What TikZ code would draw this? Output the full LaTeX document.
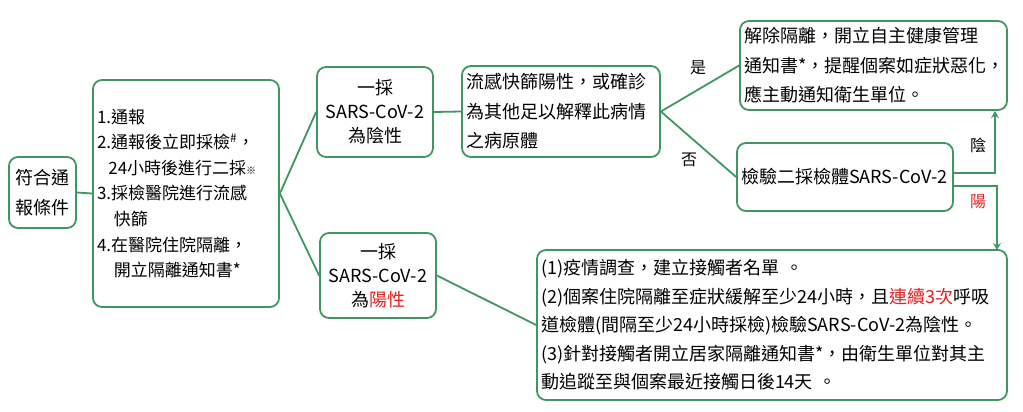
\documentclass[tikz,border=0pt]{standalone}
\usepackage{fontspec}
\setmainfont{Noto Sans CJK TC}
\usetikzlibrary{arrows.meta}
\definecolor{grn}{RGB}{64,150,96}
\definecolor{rd}{RGB}{230,30,30}
\tikzset{
 bx/.style={draw=grn,line width=1.8pt,rounded corners=9pt,inner sep=4pt,font=\fontsize{18}{29.5}\selectfont},
 cn/.style={draw=grn,line width=1.8pt},
 lb/.style={font=\fontsize{16}{18}\selectfont}
}
\begin{document}
\begin{tikzpicture}[x=1pt,y=-1pt]
\useasboundingbox (0,0) rectangle (1023,412);
\node[bx,minimum width=67pt,minimum height=71pt,align=center,font=\fontsize{18}{30}\selectfont] (A) at (42.5,192.5) {符合通\\報條件};
\node[bx,minimum width=186pt,minimum height=227pt,align=left,text width=178pt,font=\fontsize{17}{25.6}\selectfont] (B) at (186,193.5) {1.通報\\2.通報後立即採檢$^{\#}$，\\\ \ 24小時後進行二採{\fontsize{10}{10}\selectfont ※}\\3.採檢醫院進行流感\\\ \ \ 快篩\\4.在醫院住院隔離，\\\ \ \ 開立隔離通知書*};
\node[bx,minimum width=116pt,minimum height=90pt,align=center,font=\fontsize{18}{24}\selectfont] (C) at (375,112) {一採\\SARS-CoV-2\\為陰性};
\node[bx,minimum width=198pt,minimum height=91pt,align=left,text width=190pt] (D) at (561,111.5) {流感快篩陽性，或確診\\為其他足以解釋此病情\\之病原體};
\node[bx,minimum width=267pt,minimum height=89pt,align=left,text width=259pt] (E) at (873.5,65.5) {解除隔離，開立自主健康管理\\通知書*，提醒個案如症狀惡化，\\應主動通知衛生單位。};
\node[bx,minimum width=216pt,minimum height=68pt,align=left,text width=208pt] (F) at (845,177) {檢驗二採檢體SARS-CoV-2};
\node[bx,minimum width=116pt,minimum height=85pt,align=center,font=\fontsize{18}{24}\selectfont] (G) at (378,275.5) {一採\\SARS-CoV-2\\為\textcolor{rd}{陽性}};
\node[bx,minimum width=470pt,minimum height=150pt,align=left,text width=462pt,font=\fontsize{18}{28.5}\selectfont] (H) at (772,325) {(1)疫情調查，建立接觸者名單 。\\(2)個案住院隔離至症狀緩解至少24小時，且\textcolor{rd}{連續3次}呼吸\\道檢體(間隔至少24小時採檢)檢驗SARS-CoV-2為陰性。\\(3)針對接觸者開立居家隔離通知書*，由衛生單位對其主\\動追蹤至與個案最近接觸日後14天 。};
\draw[cn] (A.east) -- (B.west);
\draw[cn] (B.east) -- (C.west);
\draw[cn] (B.east) -- (G.west);
\draw[cn] (C.east) -- (D.west);
\draw[cn] (D.east) -- (E.west);
\draw[cn] (D.east) -- (F.west);
\draw[cn] (G.east) -- (H.west);
\coordinate (fu) at (F.east |- 0,173);
\coordinate (fd) at (F.east |- 0,186);
\draw[cn,-{Stealth[length=7pt,width=8pt]}] (fu) -- (995,173) -- (995,111);
\draw[cn,-{Stealth[length=7pt,width=8pt]}] (fd) -- (997,186) -- (997,250);
\node[lb] (l1) at (698,68) {是};
\node[lb] (l2) at (689,160) {否};
\node[lb] (l3) at (978,145) {陰};
\node[lb,text=rd] (l4) at (978,202) {陽};
\end{tikzpicture}
\end{document}
